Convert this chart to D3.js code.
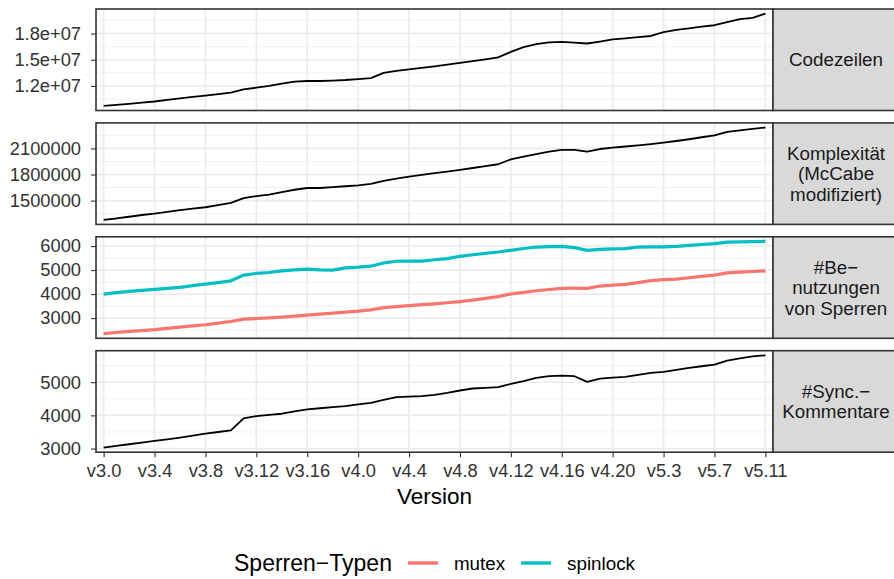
<!DOCTYPE html>
<html>
<head>
<meta charset="utf-8">
<script src="https://cdn.jsdelivr.net/npm/d3@7.9.0/dist/d3.min.js"></script>
<style>
  body { margin: 0; background: #fff; }
  svg { display: block; font-family: "Liberation Sans", Arial, Helvetica, sans-serif; }
</style>
</head>
<body>
<div id="chart"></div>
<script>
// Kernel versions v3.0 .. v5.11
const versions = [
  ...d3.range(0, 20).map(i => `v3.${i}`),
  ...d3.range(0, 21).map(i => `v4.${i}`),
  ...d3.range(0, 12).map(i => `v5.${i}`)
];
const tickVersions = ["v3.0", "v3.4", "v3.8", "v3.12", "v3.16", "v4.0", "v4.4", "v4.8",
  "v4.12", "v4.16", "v4.20", "v5.3", "v5.7", "v5.11"];

// lines of code, in millions
const codezeilen = [9.72, 9.84, 9.96, 10.09, 10.22, 10.40, 10.58, 10.74, 10.90, 11.06,
  11.24, 11.60, 11.80, 12.02, 12.28, 12.50, 12.57, 12.57, 12.62, 12.68,
  12.78, 12.90, 13.50, 13.72, 13.90, 14.08, 14.25, 14.45, 14.65, 14.85,
  15.05, 15.27, 15.90, 16.45, 16.80, 16.98, 17.05, 16.95, 16.86, 17.08,
  17.32, 17.45, 17.58, 17.72, 18.15, 18.42, 18.60, 18.78, 18.95, 19.30,
  19.64, 19.80, 20.28];

// modified McCabe complexity, in millions
const komplexitaet = [1.280, 1.295, 1.315, 1.335, 1.352, 1.371, 1.390, 1.408, 1.424, 1.448,
  1.474, 1.528, 1.552, 1.570, 1.598, 1.625, 1.645, 1.645, 1.655, 1.665,
  1.675, 1.692, 1.728, 1.752, 1.775, 1.795, 1.815, 1.834, 1.854, 1.875,
  1.896, 1.918, 1.975, 2.005, 2.035, 2.062, 2.082, 2.082, 2.062, 2.093,
  2.110, 2.122, 2.135, 2.150, 2.167, 2.185, 2.205, 2.228, 2.250, 2.290,
  2.308, 2.324, 2.340];

const mutex = [2351, 2400, 2446, 2480, 2517, 2570, 2628, 2675, 2723, 2790,
  2860, 2958, 2983, 3010, 3041, 3082, 3124, 3165, 3207, 3250,
  3290, 3343, 3438, 3480, 3521, 3560, 3595, 3640, 3686, 3750,
  3820, 3893, 4004, 4070, 4140, 4190, 4240, 4245, 4240, 4335,
  4370, 4405, 4480, 4560, 4600, 4624, 4680, 4735, 4789, 4884,
  4915, 4940, 4967];

const spinlock = [4000, 4060, 4110, 4155, 4198, 4240, 4280, 4350, 4417, 4480,
  4553, 4790, 4860, 4900, 4970, 5005, 5037, 5010, 4996, 5091,
  5120, 5161, 5298, 5368, 5370, 5375, 5430, 5479, 5574, 5640,
  5695, 5752, 5822, 5900, 5960, 5975, 5988, 5934, 5822, 5864,
  5880, 5893, 5960, 5965, 5970, 5988, 6030, 6065, 6099, 6165,
  6175, 6185, 6194];

const syncKommentare = [3030, 3080, 3130, 3180, 3230, 3280, 3330, 3390, 3450, 3500,
  3550, 3910, 3980, 4015, 4050, 4120, 4180, 4215, 4250, 4280,
  4330, 4380, 4470, 4550, 4565, 4580, 4620, 4680, 4750, 4810,
  4830, 4850, 4950, 5030, 5130, 5180, 5200, 5180, 5010, 5110,
  5140, 5160, 5220, 5280, 5310, 5370, 5430, 5480, 5530, 5650,
  5720, 5780, 5810];

const lockTypes = ["mutex", "spinlock"];
const lockColors = ["#F8766D", "#00BFC4"];

// facets: strip label lines, series, y breaks
const facets = [
  { strip: ["Codezeilen"], series: [{ values: codezeilen.map(d => d * 1e6), color: "#000", width: 1.8 }],
    breaks: [1.2e7, 1.5e7, 1.8e7], minor: [1.05e7, 1.35e7, 1.65e7, 1.95e7],
    fmt: d => d3.format(".1e")(d).replace("e+", "e+0") },
  { strip: ["Komplexität", "(McCabe", "modifiziert)"], series: [{ values: komplexitaet.map(d => d * 1e6), color: "#000", width: 1.8 }],
    breaks: [1500000, 1800000, 2100000], minor: [1350000, 1650000, 1950000, 2250000],
    fmt: d => String(d) },
  { strip: ["#Be\u2212", "nutzungen", "von Sperren"],
    series: [{ values: mutex, color: lockColors[0], width: 3.2 }, { values: spinlock, color: lockColors[1], width: 3.2 }],
    breaks: [3000, 4000, 5000, 6000], minor: [2500, 3500, 4500, 5500],
    fmt: d => String(d) },
  { strip: ["#Sync.\u2212", "Kommentare"], series: [{ values: syncKommentare, color: "#000", width: 1.8 }],
    breaks: [3000, 4000, 5000], minor: [3500, 4500, 5500],
    fmt: d => String(d) }
];

const W = 894, H = 579;
const panelLeft = 96, panelRight = 773, stripRight = 900;
const panelTop = 9, panelH = 101.5, panelGap = 12.4;
const smallFont = "18.3px";

const svg = d3.select("#chart").append("svg")
  .attr("width", W).attr("height", H);

const x = d3.scalePoint()
  .domain(versions)
  .range([panelLeft, panelRight])
  .padding(0.6);

facets.forEach((f, k) => {
  const top = panelTop + k * (panelH + panelGap);
  const bottom = top + panelH;
  const all = f.series.flatMap(s => s.values);
  const [lo, hi] = d3.extent(all);
  const pad = (hi - lo) * 0.05;
  const y = d3.scaleLinear().domain([lo - pad, hi + pad]).range([bottom, top]);

  const g = svg.append("g");

  // panel background + grid
  g.append("rect")
    .attr("x", panelLeft).attr("y", top)
    .attr("width", panelRight - panelLeft).attr("height", panelH)
    .attr("fill", "#fff");

  g.selectAll("line.minor")
    .data(f.minor.filter(v => y(v) > top && y(v) < bottom))
    .join("line")
    .attr("x1", panelLeft).attr("x2", panelRight)
    .attr("y1", d => y(d)).attr("y2", d => y(d))
    .attr("stroke", "#F2F2F2").attr("stroke-width", 1);

  g.selectAll("line.majory")
    .data(f.breaks)
    .join("line")
    .attr("x1", panelLeft).attr("x2", panelRight)
    .attr("y1", d => y(d)).attr("y2", d => y(d))
    .attr("stroke", "#EBEBEB").attr("stroke-width", 1.6);

  g.selectAll("line.majorx")
    .data(tickVersions)
    .join("line")
    .attr("x1", d => x(d)).attr("x2", d => x(d))
    .attr("y1", top).attr("y2", bottom)
    .attr("stroke", "#EBEBEB").attr("stroke-width", 1.6);

  // series lines
  const line = d3.line()
    .x((d, i) => x(versions[i]))
    .y(d => y(d));

  f.series.forEach(s => {
    g.append("path")
      .datum(s.values)
      .attr("d", line)
      .attr("fill", "none")
      .attr("stroke", s.color)
      .attr("stroke-width", s.width)
      .attr("stroke-linejoin", "round");
  });

  // y axis
  const yAxis = g.append("g")
    .attr("transform", `translate(${panelLeft},0)`)
    .call(d3.axisLeft(y).tickValues(f.breaks).tickFormat(f.fmt).tickSize(5).tickPadding(10));
  yAxis.select(".domain").remove();
  yAxis.selectAll(".tick line").attr("stroke", "#333").attr("stroke-width", 1.1);
  yAxis.selectAll(".tick text")
    .attr("fill", "#333")
    .style("font-size", smallFont)
    .style("font-family", "'Liberation Sans', Arial, sans-serif");

  // panel border
  g.append("rect")
    .attr("x", panelLeft).attr("y", top)
    .attr("width", panelRight - panelLeft).attr("height", panelH)
    .attr("fill", "none").attr("stroke", "#333").attr("stroke-width", 1.6);

  // strip
  g.append("rect")
    .attr("x", panelRight).attr("y", top)
    .attr("width", stripRight - panelRight).attr("height", panelH)
    .attr("fill", "#D9D9D9").attr("stroke", "#333").attr("stroke-width", 1.6);

  const lh = 20.5;
  const cy = (top + bottom) / 2;
  g.append("text")
    .attr("text-anchor", "middle")
    .attr("fill", "#1A1A1A")
    .style("font-size", "18.8px")
    .selectAll("tspan")
    .data(f.strip)
    .join("tspan")
    .attr("x", 836)
    .attr("y", (d, i) => cy + (i - (f.strip.length - 1) / 2) * lh)
    .attr("dy", "0.35em")
    .text(d => d);

  // x axis only under last panel
  if (k === facets.length - 1) {
    const xAxis = svg.append("g")
      .attr("transform", `translate(0,${bottom})`)
      .call(d3.axisBottom(x).tickValues(tickVersions).tickSize(5).tickPadding(7));
    xAxis.select(".domain").remove();
    xAxis.selectAll(".tick line").attr("stroke", "#333").attr("stroke-width", 1.1);
    xAxis.selectAll(".tick text")
      .attr("fill", "#333")
      .style("font-size", smallFont)
      .style("font-family", "'Liberation Sans', Arial, sans-serif");

    svg.append("text")
      .attr("x", (panelLeft + panelRight) / 2)
      .attr("y", bottom + 52)
      .attr("text-anchor", "middle")
      .style("font-size", "22.5px")
      .attr("fill", "#000")
      .text("Version");
  }
});

// legend
const legend = svg.append("g");
const legY = 563;
const title = legend.append("text")
  .attr("x", 0).attr("y", legY).attr("dy", "0.35em")
  .style("font-size", "23px")
  .text("Sperren\u2212Typen");
let cx = title.node().getComputedTextLength() + 16;
lockTypes.forEach((t, i) => {
  legend.append("line")
    .attr("x1", cx).attr("x2", cx + 30)
    .attr("y1", legY).attr("y2", legY)
    .attr("stroke", lockColors[i]).attr("stroke-width", 3.4);
  const lbl = legend.append("text")
    .attr("x", cx + 46).attr("y", legY).attr("dy", "0.35em")
    .style("font-size", "18.8px")
    .attr("fill", "#000")
    .text(t);
  cx += 46 + lbl.node().getComputedTextLength() + 16;
});
const legW = cx - 16;
legend.attr("transform", `translate(${(panelLeft + panelRight) / 2 - legW / 2},0)`);
</script>
</body>
</html>
